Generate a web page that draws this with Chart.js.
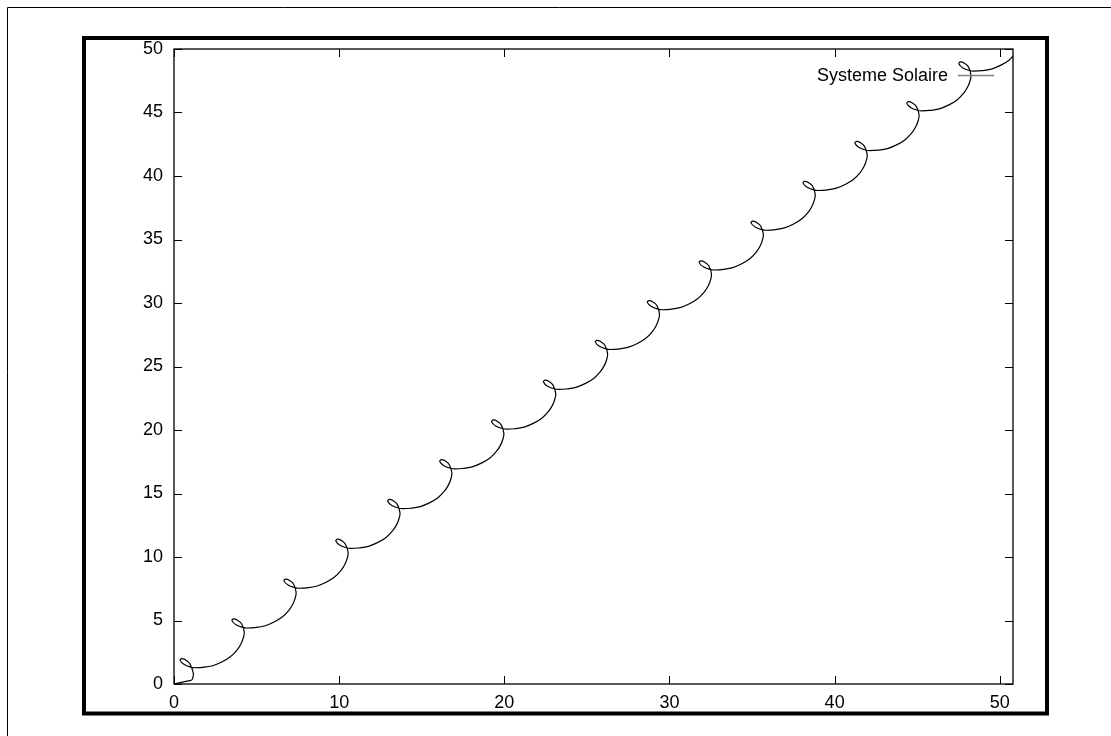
<!DOCTYPE html>
<html>
<head>
<meta charset="utf-8">
<script src="https://cdn.jsdelivr.net/npm/chart.js@4.4.1/dist/chart.umd.min.js"></script>
<style>
  html, body { margin: 0; padding: 0; background: #ffffff; }
  #wrap { width: 1111px; height: 736px; position: relative; }
</style>
</head>
<body>
<div id="wrap"><canvas id="c" width="1111" height="736"></canvas></div>
<script>
// ---- data ----
const seriesName = 'Systeme Solaire';
const xTicks = [0, 10, 20, 30, 40, 50];
const yTicks = [0, 5, 10, 15, 20, 25, 30, 35, 40, 45, 50];
const xMin = 0, xMax = 50.8, yMin = 0, yMax = 50;

const pathX = [
  0.00, 1.02, 1.08, 1.14, 1.17,
  0.95, 0.71, 0.47, 0.37, 0.62, 1.07, 1.26, 1.76, 2.34, 2.92, 3.41, 3.80, 4.06, 4.21, 4.25,
  4.09, 3.85, 3.61, 3.51, 3.76, 4.21, 4.40, 4.90, 5.48, 6.06, 6.55, 6.94, 7.20, 7.35, 7.39,
  7.24, 7.00, 6.76, 6.66, 6.91, 7.36, 7.55, 8.05, 8.63, 9.21, 9.70, 10.09, 10.35, 10.50, 10.54,
  10.38, 10.14, 9.90, 9.80, 10.05, 10.50, 10.69, 11.19, 11.77, 12.35, 12.84, 13.23, 13.49, 13.64, 13.68,
  13.52, 13.28, 13.04, 12.94, 13.19, 13.64, 13.83, 14.33, 14.91, 15.49, 15.98, 16.37, 16.63, 16.78, 16.82,
  16.67, 16.43, 16.19, 16.09, 16.34, 16.79, 16.98, 17.48, 18.06, 18.64, 19.13, 19.52, 19.78, 19.93, 19.97,
  19.81, 19.57, 19.33, 19.23, 19.48, 19.93, 20.12, 20.62, 21.20, 21.78, 22.27, 22.66, 22.92, 23.07, 23.11,
  22.95, 22.71, 22.47, 22.37, 22.62, 23.07, 23.26, 23.76, 24.34, 24.92, 25.41, 25.80, 26.06, 26.21, 26.25,
  26.09, 25.85, 25.61, 25.51, 25.76, 26.21, 26.40, 26.90, 27.48, 28.06, 28.55, 28.94, 29.20, 29.35, 29.39,
  29.24, 29.00, 28.76, 28.66, 28.91, 29.36, 29.55, 30.05, 30.63, 31.21, 31.70, 32.09, 32.35, 32.50, 32.54,
  32.38, 32.14, 31.90, 31.80, 32.05, 32.50, 32.69, 33.19, 33.77, 34.35, 34.84, 35.23, 35.49, 35.64, 35.68,
  35.52, 35.28, 35.04, 34.94, 35.19, 35.64, 35.83, 36.33, 36.91, 37.49, 37.98, 38.37, 38.63, 38.78, 38.82,
  38.67, 38.43, 38.19, 38.09, 38.34, 38.79, 38.98, 39.48, 40.06, 40.64, 41.13, 41.52, 41.78, 41.93, 41.97,
  41.81, 41.57, 41.33, 41.23, 41.48, 41.93, 42.12, 42.62, 43.20, 43.78, 44.27, 44.66, 44.92, 45.07, 45.11,
  44.95, 44.71, 44.47, 44.37, 44.62, 45.07, 45.26, 45.76, 46.34, 46.92, 47.41, 47.80, 48.06, 48.21, 48.25,
  48.10, 47.86, 47.62, 47.52, 47.77, 48.22, 48.41, 48.91, 49.49, 50.07, 50.56, 50.80
];
const pathY = [
  0.00, 0.29, 0.32, 0.50, 0.85,
  1.61, 1.89, 2.00, 1.86, 1.53, 1.31, 1.28, 1.31, 1.44, 1.75, 2.14, 2.65, 3.17, 3.69, 4.12,
  4.74, 5.02, 5.13, 4.99, 4.66, 4.44, 4.41, 4.44, 4.57, 4.88, 5.27, 5.78, 6.30, 6.82, 7.25,
  7.87, 8.15, 8.26, 8.12, 7.79, 7.57, 7.54, 7.57, 7.70, 8.01, 8.40, 8.91, 9.43, 9.95, 10.38,
  11.01, 11.29, 11.40, 11.26, 10.93, 10.71, 10.68, 10.71, 10.84, 11.15, 11.54, 12.05, 12.57, 13.09, 13.52,
  14.14, 14.42, 14.53, 14.39, 14.06, 13.84, 13.81, 13.84, 13.97, 14.28, 14.67, 15.18, 15.70, 16.22, 16.65,
  17.27, 17.55, 17.66, 17.52, 17.19, 16.97, 16.94, 16.97, 17.10, 17.41, 17.80, 18.31, 18.83, 19.35, 19.78,
  20.40, 20.68, 20.79, 20.65, 20.32, 20.10, 20.07, 20.10, 20.23, 20.54, 20.93, 21.44, 21.96, 22.48, 22.91,
  23.53, 23.81, 23.92, 23.78, 23.45, 23.23, 23.20, 23.23, 23.36, 23.67, 24.06, 24.57, 25.09, 25.61, 26.04,
  26.67, 26.95, 27.06, 26.92, 26.59, 26.37, 26.34, 26.37, 26.50, 26.81, 27.20, 27.71, 28.23, 28.75, 29.18,
  29.80, 30.08, 30.19, 30.05, 29.72, 29.50, 29.47, 29.50, 29.63, 29.94, 30.33, 30.84, 31.36, 31.88, 32.31,
  32.93, 33.21, 33.32, 33.18, 32.85, 32.63, 32.60, 32.63, 32.76, 33.07, 33.46, 33.97, 34.49, 35.01, 35.44,
  36.06, 36.34, 36.45, 36.31, 35.98, 35.76, 35.73, 35.76, 35.89, 36.20, 36.59, 37.10, 37.62, 38.14, 38.57,
  39.19, 39.47, 39.58, 39.44, 39.11, 38.89, 38.86, 38.89, 39.02, 39.33, 39.72, 40.23, 40.75, 41.27, 41.70,
  42.33, 42.61, 42.72, 42.58, 42.25, 42.03, 42.00, 42.03, 42.16, 42.47, 42.86, 43.37, 43.89, 44.41, 44.84,
  45.46, 45.74, 45.85, 45.71, 45.38, 45.16, 45.13, 45.16, 45.29, 45.60, 45.99, 46.50, 47.02, 47.54, 47.97,
  48.59, 48.87, 48.98, 48.84, 48.51, 48.29, 48.26, 48.29, 48.42, 48.73, 49.12, 49.45
];

// ---- chart ----
const FONT = '"Liberation Sans", Arial, Helvetica, sans-serif';
const points = pathX.map((x, i) => ({ x: x, y: pathY[i] }));

const framePlugin = {
  id: 'gnuframe',
  beforeDraw(chart) {
    const ctx = chart.ctx;
    ctx.save();
    ctx.fillStyle = '#ffffff';
    ctx.fillRect(0, 0, chart.width, chart.height);
    ctx.restore();
  },
  afterDraw(chart) {
    const ctx = chart.ctx;
    const a = chart.chartArea;
    const xs = chart.scales.x, ys = chart.scales.y;
    ctx.save();
    // outermost thin lines (top & left)
    ctx.strokeStyle = '#000';
    ctx.lineWidth = 1;
    ctx.beginPath();
    ctx.moveTo(7.5, chart.height + 5); ctx.lineTo(7.5, 7.5); ctx.lineTo(chart.width + 5, 7.5);
    ctx.stroke();
    // thick frame
    ctx.lineWidth = 4;
    ctx.strokeRect(84, 38, 963, 675.5);
    // plot frame
    ctx.lineWidth = 1.3;
    ctx.strokeRect(a.left, a.top, a.right - a.left, a.bottom - a.top);
    // inward ticks, mirrored
    ctx.lineWidth = 1;
    ctx.beginPath();
    xTicks.forEach(v => {
      const px = Math.round(xs.getPixelForValue(v)) + 0.5;
      ctx.moveTo(px, a.bottom); ctx.lineTo(px, a.bottom - 8);
      ctx.moveTo(px, a.top); ctx.lineTo(px, a.top + 8);
    });
    yTicks.forEach(v => {
      const py = Math.round(ys.getPixelForValue(v)) + 0.5;
      ctx.moveTo(a.left, py); ctx.lineTo(a.left + 8, py);
      ctx.moveTo(a.right, py); ctx.lineTo(a.right - 8, py);
    });
    ctx.stroke();
    // key
    ctx.font = '18px ' + FONT;
    ctx.fillStyle = '#000';
    ctx.textAlign = 'right';
    ctx.textBaseline = 'middle';
    ctx.fillText(seriesName, 948, 76);
    ctx.strokeStyle = '#808080';
    ctx.lineWidth = 1.5;
    ctx.beginPath();
    ctx.moveTo(958, 75.5); ctx.lineTo(994, 75.5);
    ctx.stroke();
    ctx.restore();
  }
};

new Chart(document.getElementById('c'), {
  type: 'scatter',
  data: {
    datasets: [{
      label: seriesName,
      data: points,
      showLine: true,
      borderColor: '#000000',
      borderWidth: 1.2,
      pointRadius: 0,
      pointHoverRadius: 0,
      tension: 0.4,
      fill: false
    }]
  },
  options: {
    responsive: false,
    animation: false,
    devicePixelRatio: 1,
    events: [],
    layout: { padding: { left: 0, top: 49, right: 98, bottom: 0 } },
    plugins: { legend: { display: false }, tooltip: { enabled: false }, title: { display: false } },
    scales: {
      x: {
        type: 'linear',
        min: xMin, max: xMax,
        grid: { display: false, drawTicks: false },
        border: { display: false },
        afterBuildTicks: s => { s.ticks = xTicks.map(v => ({ value: v })); },
        afterFit: s => { s.height = 52; },
        ticks: { color: '#000', font: { family: FONT, size: 18 }, padding: 8, maxRotation: 0, autoSkip: false,
                 callback: v => String(v) }
      },
      y: {
        type: 'linear',
        min: yMin, max: yMax,
        grid: { display: false, drawTicks: false },
        border: { display: false },
        afterBuildTicks: s => { s.ticks = yTicks.map(v => ({ value: v })); },
        afterFit: s => { s.width = 174; },
        ticks: { color: '#000', font: { family: FONT, size: 18 }, padding: 11, autoSkip: false,
                 callback: v => String(v) }
      }
    }
  },
  plugins: [framePlugin]
});
</script>
</body>
</html>
